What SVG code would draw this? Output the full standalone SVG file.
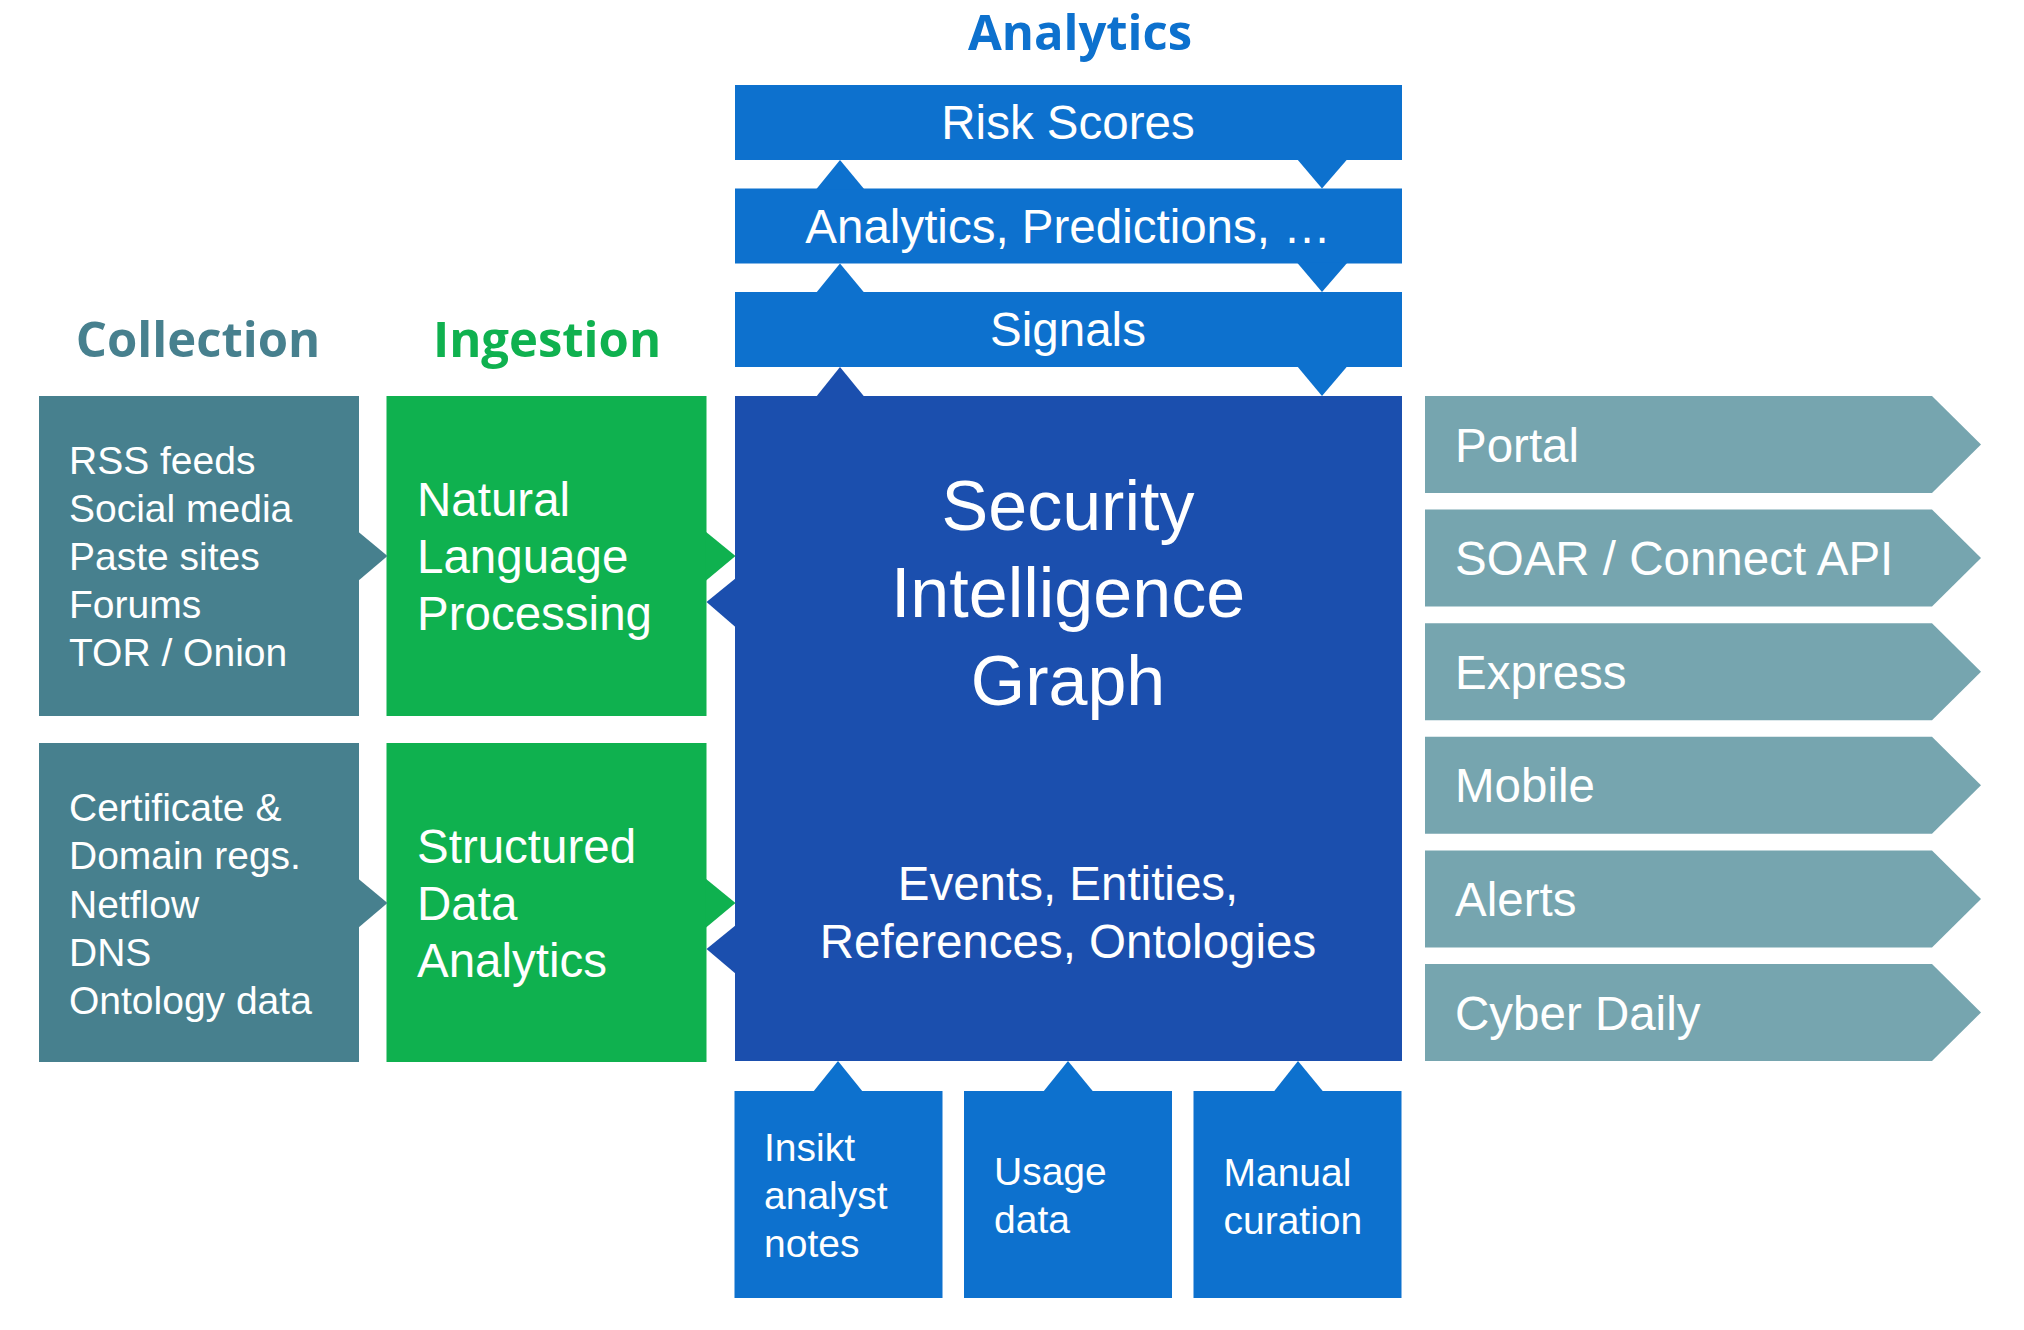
<svg xmlns="http://www.w3.org/2000/svg" width="2024" height="1330" viewBox="0 0 2024 1330">
<style>
.t{font-family:"Liberation Sans",Arial,sans-serif;fill:#fff}
.h{font-family:"Open Sans","Noto Sans",sans-serif;font-weight:700;font-size:49px}
.mb{fill:#0D71CE}
.db{fill:#1B4FAE}
.gr{fill:#0FB14F}
.tl{fill:#47808E}
.og{fill:#76A5AF}
.s39{font-size:39px}
.s47{font-size:47.5px}
.s70{font-size:70px}
</style>
<defs>
<path id="outArrow" d="M1425,0 H1932 L1981,48.5 L1932,97 H1425 Z"/>
</defs>
<rect width="2024" height="1330" fill="#fff"/>

<g id="titles">
<text class="h" x="1080" y="50" text-anchor="middle" fill="#0D71CE">Analytics</text>
<text class="h" x="198" y="357" text-anchor="middle" fill="#47808E">Collection</text>
<text class="h" x="547" y="357" text-anchor="middle" fill="#0FB14F">Ingestion</text>
</g>

<g id="risk-scores">
<rect class="mb" x="735" y="85" width="667" height="75"/>
<text class="t s47" x="1068" y="139" text-anchor="middle">Risk Scores</text>
</g>
<g id="analytics-predictions">
<rect class="mb" x="735" y="188.5" width="667" height="75"/>
<text class="t s47" x="1068" y="243" text-anchor="middle">Analytics, Predictions, …</text>
</g>
<g id="signals">
<rect class="mb" x="735" y="292" width="667" height="75"/>
<text class="t s47" x="1068" y="346" text-anchor="middle">Signals</text>
</g>

<g id="security-intelligence-graph">
<rect class="db" x="735" y="396" width="667" height="665"/>
<text class="t s70" text-anchor="middle"><tspan x="1068" y="530">Security</tspan><tspan x="1068" y="617">Intelligence</tspan><tspan x="1068" y="705">Graph</tspan></text>
<text class="t s47" text-anchor="middle"><tspan x="1068" y="900">Events, Entities,</tspan><tspan x="1068" y="958">References, Ontologies</tspan></text>
</g>

<g id="collection-open-sources">
<rect class="tl" x="39" y="396" width="320" height="320"/>
<text class="t s39"><tspan x="69" y="474">RSS feeds</tspan><tspan x="69" y="522">Social media</tspan><tspan x="69" y="570">Paste sites</tspan><tspan x="69" y="618">Forums</tspan><tspan x="69" y="666">TOR / Onion</tspan></text>
</g>
<g id="collection-technical-sources">
<rect class="tl" x="39" y="743" width="320" height="319"/>
<text class="t s39"><tspan x="69" y="821">Certificate &amp;</tspan><tspan x="69" y="869">Domain regs.</tspan><tspan x="69" y="917.5">Netflow</tspan><tspan x="69" y="965.5">DNS</tspan><tspan x="69" y="1013.5">Ontology data</tspan></text>
</g>

<g id="natural-language-processing">
<rect class="gr" x="386.5" y="396" width="320" height="320"/>
<text class="t s47"><tspan x="417" y="515.5">Natural</tspan><tspan x="417" y="572.5">Language</tspan><tspan x="417" y="629.5">Processing</tspan></text>
</g>
<g id="structured-data-analytics">
<rect class="gr" x="386.5" y="743" width="320" height="319"/>
<text class="t s47"><tspan x="417" y="863">Structured</tspan><tspan x="417" y="920">Data</tspan><tspan x="417" y="977">Analytics</tspan></text>
</g>

<g id="insikt-analyst-notes">
<rect class="mb" x="734.5" y="1091" width="208" height="207"/>
<text class="t s39"><tspan x="764" y="1161">Insikt</tspan><tspan x="764" y="1209">analyst</tspan><tspan x="764" y="1257">notes</tspan></text>
</g>
<g id="usage-data">
<rect class="mb" x="964" y="1091" width="208" height="207"/>
<text class="t s39"><tspan x="994" y="1185">Usage</tspan><tspan x="994" y="1233">data</tspan></text>
</g>
<g id="manual-curation">
<rect class="mb" x="1193.5" y="1091" width="208" height="207"/>
<text class="t s39"><tspan x="1223.5" y="1185.5">Manual</tspan><tspan x="1223.5" y="1233.5">curation</tspan></text>
</g>

<g id="out-portal" transform="translate(0,396)">
<use href="#outArrow" class="og"/>
<text class="t s47" x="1455" y="65.5">Portal</text>
</g>
<g id="out-soar" transform="translate(0,509.6)">
<use href="#outArrow" class="og"/>
<text class="t s47" x="1455" y="65.5">SOAR / Connect API</text>
</g>
<g id="out-express" transform="translate(0,623.2)">
<use href="#outArrow" class="og"/>
<text class="t s47" x="1455" y="65.5">Express</text>
</g>
<g id="out-mobile" transform="translate(0,736.8)">
<use href="#outArrow" class="og"/>
<text class="t s47" x="1455" y="65.5">Mobile</text>
</g>
<g id="out-alerts" transform="translate(0,850.4)">
<use href="#outArrow" class="og"/>
<text class="t s47" x="1455" y="65.5">Alerts</text>
</g>
<g id="out-cyber-daily" transform="translate(0,964)">
<use href="#outArrow" class="og"/>
<text class="t s47" x="1455" y="65.5">Cyber Daily</text>
</g>

<g id="connectors">
<polygon class="tl" points="358,531.5 387.5,556 358,581"/>
<polygon class="gr" points="705.5,531.5 735.5,556 705.5,581"/>
<polygon class="db" points="736,578 706.5,602 736,627.5"/>
<polygon class="tl" points="358,878.5 387.5,903 358,928"/>
<polygon class="gr" points="705.5,878.5 735.5,903 705.5,928"/>
<polygon class="db" points="736,925 706.5,949 736,974"/>
<polygon class="mb" points="816,189.5 840,160 864.5,189.5"/>
<polygon class="mb" points="1297,159 1322,188.5 1347.5,159"/>
<polygon class="mb" points="816,293 840,263.5 864.5,293"/>
<polygon class="mb" points="1297,262.5 1322,292 1347.5,262.5"/>
<polygon class="db" points="816,397 840,367 864.5,397"/>
<polygon class="mb" points="1297,366 1322,396 1347.5,366"/>
<polygon class="mb" points="813,1092 838,1061 863,1092"/>
<polygon class="mb" points="1043,1092 1068,1061 1093.5,1092"/>
<polygon class="mb" points="1273.5,1092 1298,1061 1323.5,1092"/>
</g>
</svg>
